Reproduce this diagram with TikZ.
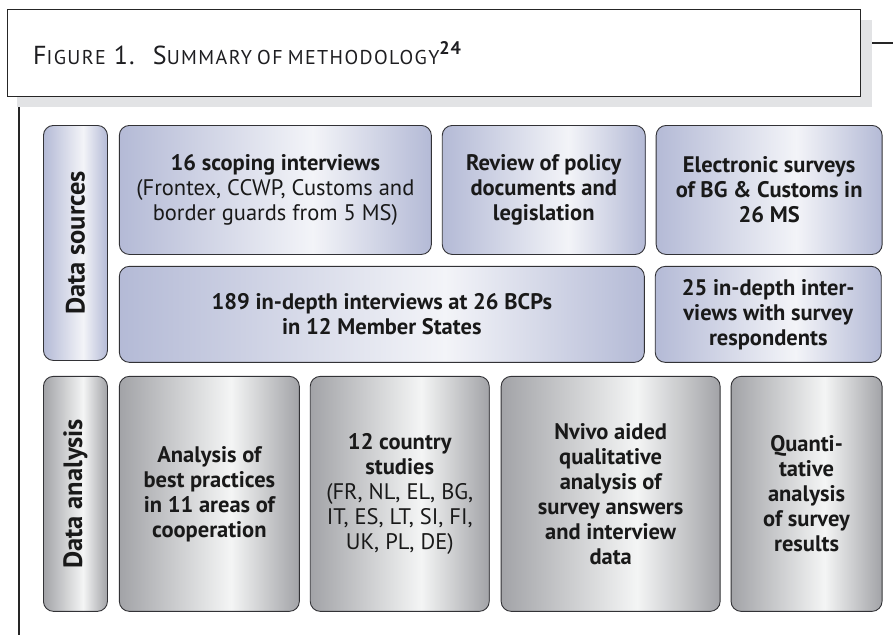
\documentclass[tikz,border=0pt]{standalone}
\usepackage{fontspec}
\setmainfont{PT Sans}
\usepackage{tikz}
\usetikzlibrary{positioning}

\definecolor{srcedge}{RGB}{180,186,214}
\definecolor{srclight}{RGB}{243,244,248}
\definecolor{anaedge}{RGB}{162,163,167}
\definecolor{analight}{RGB}{244,245,245}
\definecolor{boxline}{RGB}{50,50,54}
\definecolor{shadowgray}{RGB}{226,227,229}
\definecolor{titletext}{RGB}{30,30,33}

\pgfdeclarehorizontalshading{srcshade}{100bp}{color(0bp)=(srcedge); color(25bp)=(srcedge); color(56bp)=(srclight); color(75bp)=(srcedge); color(100bp)=(srcedge)}
\pgfdeclarehorizontalshading{anashade}{100bp}{color(0bp)=(anaedge); color(25bp)=(anaedge); color(56bp)=(analight); color(75bp)=(anaedge); color(100bp)=(anaedge)}

\newcommand{\smallcap}[1]{{\fontsize{20}{24}\selectfont\addfontfeatures{LetterSpace=7}#1}}

\begin{document}
\begin{tikzpicture}[
    x=1pt, y=-1pt,
    node distance=10pt,
    block/.style={
		rectangle,
		rounded corners=10pt,
		draw=boxline,
		line width=0.9pt,
		inner sep=0pt,
		align=center,
		text=black!90,
		font=\fontsize{22.5}{25}\selectfont\bfseries
	},
	source/.style={
		block,
		shading=srcshade
	},
	analysis/.style={
		block,
		shading=anashade
	},
	sidelabel/.style={
		minimum width=64pt,
		minimum height=235pt,
		font=\fontsize{26.5}{30}\selectfont\bfseries
	}
  ]
  \useasboundingbox (0,0) rectangle (893,635);

    % title box with its shadow
  \node [fill=shadowgray, inner sep=0pt, minimum width=855pt, minimum height=87pt, anchor=north west] (shadow) at (17,20) {};
  \node [draw=black!85, line width=1.3pt, fill=white, inner sep=0pt, minimum width=853pt, minimum height=87pt, anchor=north west] (title) at (7,9) {};
  \node [anchor=base west, inner sep=0pt, text=titletext, font=\fontsize{26}{30}\selectfont\addfontfeatures{LetterSpace=5}] (titletext) at (33,64)
 {F\smallcap{IGURE}\hspace{0.3em}1.\hspace{0.7em}S\smallcap{UMMARY}\hspace{0.2em}\smallcap{OF}\hspace{0.2em}\smallcap{METHODOLOGY}\textsuperscript{\bfseries 24}};

  \coordinate (dashend) at (893,43);
  \coordinate (lineend) at (19,635);
  \draw [line width=1.3pt, black!85] (shadow.east |- dashend) -- (dashend);
  \draw [line width=1.3pt, black!85] (lineend |- shadow.south) -- (lineend);

    % data sources
  \node [source, sidelabel, anchor=north west] (srclabel) at (43,125)
 {\rotatebox{90}{Data sources}};

  \node [source, minimum width=312pt, minimum height=129pt, right=11pt of srclabel.north east, anchor=north west] (scoping)
 {16 scoping interviews\\
  \mdseries(Frontex, CCWP, Customs and\\
  \mdseries border guards from 5 MS)};

  \node [source, minimum width=203pt, minimum height=129pt, right=of scoping.north east, anchor=north west] (review)
 {Review of policy\\documents and\\legislation};

  \node [source, minimum width=226pt, minimum height=129pt, right=of review.north east, anchor=north west] (esurvey)
 {Electronic surveys\\of BG \& Customs in\\26 MS};

  \node [source, minimum width=525pt, minimum height=96pt, below=11pt of scoping.south west, anchor=north west] (indepth)
 {189 in-depth interviews at 26 BCPs\\in 12 Member States};

  \node [source, minimum width=226pt, minimum height=96pt, right=of indepth.north east, anchor=north west] (survresp)
 {25 in-depth inter-\\views with survey\\respondents};

    % data analysis
  \node [analysis, sidelabel, below=15pt of srclabel.south west, anchor=north west] (analabel)
 {\rotatebox{90}{Data analysis}};

  \node [analysis, minimum width=180pt, minimum height=235pt, right=11pt of analabel.north east, anchor=north west] (bestpr)
 {Analysis of\\best practices\\in 11 areas of\\cooperation};

  \node [analysis, minimum width=179pt, minimum height=235pt, right=of bestpr.north east, anchor=north west] (country)
 {12 country\\studies\\
  \mdseries(FR, NL, EL, BG,\\
  \mdseries IT, ES, LT, SI, FI,\\
  \mdseries UK, PL, DE)};

  \node [analysis, minimum width=219pt, minimum height=235pt, right=11pt of country.north east, anchor=north west] (nvivo)
 {Nvivo aided\\qualitative\\analysis of\\survey answers\\and interview\\data};

  \node [analysis, minimum width=151pt, minimum height=235pt, right=of nvivo.north east, anchor=north west] (quanti)
 {Quanti-\\tative\\analysis\\of survey\\results};

\end{tikzpicture}
\end{document}
